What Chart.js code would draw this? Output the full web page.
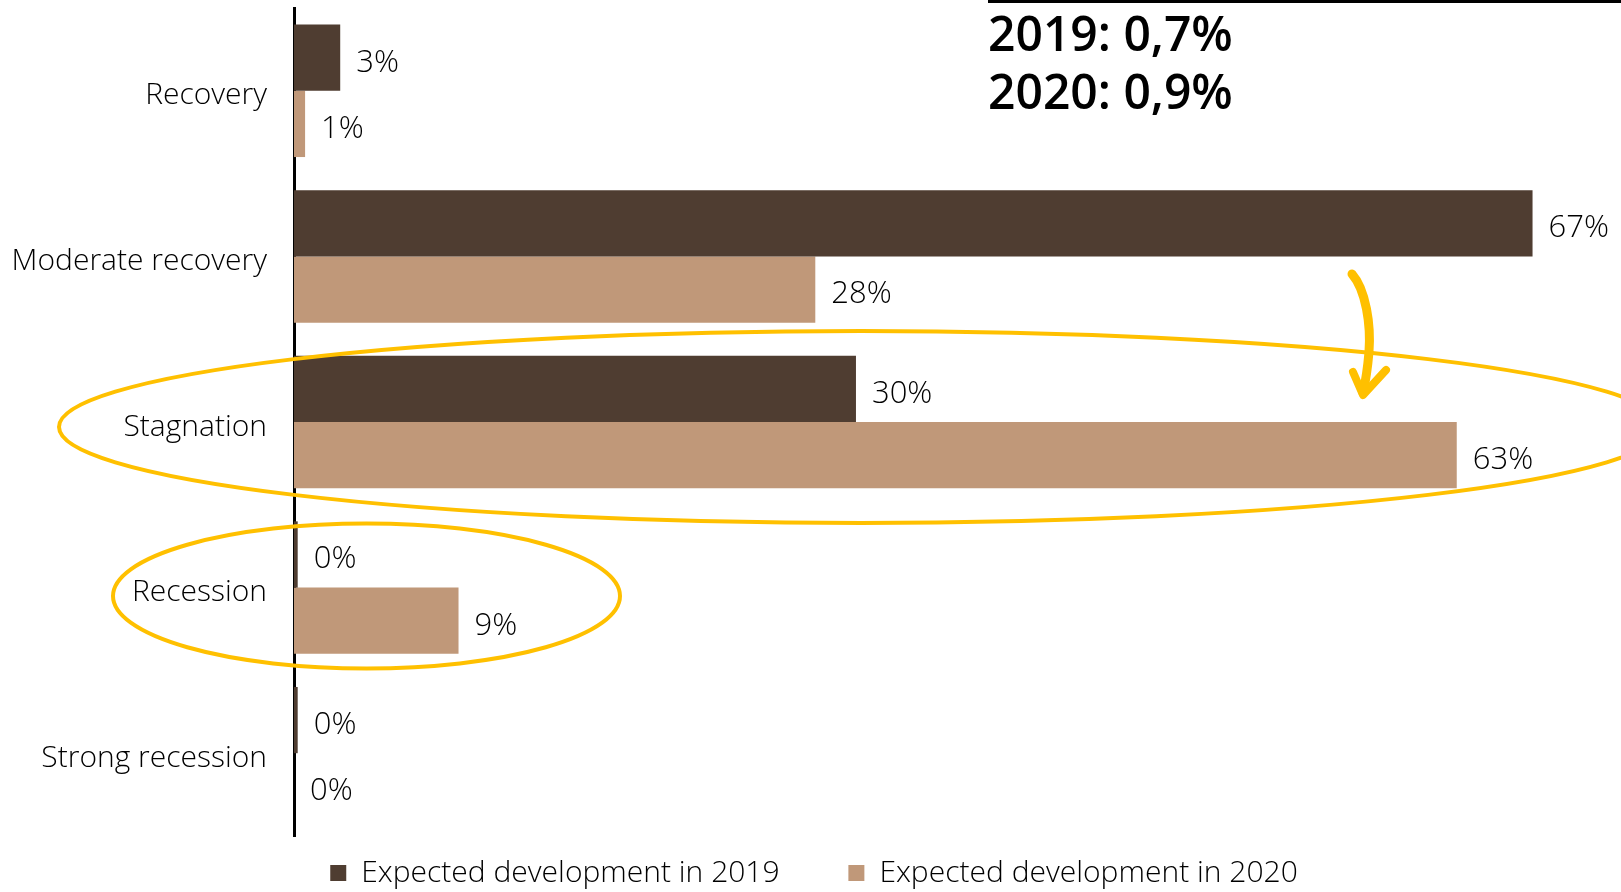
<!DOCTYPE html>
<html>
<head>
<meta charset="utf-8">
<script src="https://cdn.jsdelivr.net/npm/chart.js@4"></script>
<style>
  html, body { margin: 0; padding: 0; background: #fff; }
  #chart { display: block; }
</style>
</head>
<body>
<canvas id="chart" width="1621" height="892"></canvas>
<script>
// categories and values (% of respondents)
var categorias = ['Recovery', 'Moderate recovery', 'Stagnation', 'Recession', 'Strong recession'];
var valores_2019 = [2.5, 67, 30.4, 0.2, 0.2];
var valores_2020 = [0.6, 28.2, 62.9, 8.9, 0];
var nomes_series = ['Expected development in 2019', 'Expected development in 2020'];
var resumo = ['2019: 0,7%', '2020: 0,9%'];

var cor_escura = '#4F3D31';
var cor_clara = '#C09879';
var amarelo = '#FFC000';
var fonte = "'Open Sans', 'Noto Sans', sans-serif";

// value labels next to each bar
var rotulos = {
    id: 'rotulos',
    afterDatasetsDraw: function (chart) {
        var ctx = chart.ctx;
        ctx.save();
        ctx.font = '300 31px ' + fonte;
        ctx.fillStyle = '#000';
        ctx.textAlign = 'left';
        ctx.textBaseline = 'middle';
        chart.data.datasets.forEach(function (ds, i) {
            var meta = chart.getDatasetMeta(i);
            meta.data.forEach(function (barra, n) {
                ctx.fillText(Math.round(ds.data[n]) + '%', barra.x + 16, barra.y + 5);
            });
        });
        ctx.restore();
    }
};

// yellow highlights, arrow and the box text top right
var anotacoes = {
    id: 'anotacoes',
    afterInit: function (chart) {
        // keep legend box short so the plot ends where the axis ends
        var legenda = chart.legend;
        var fitOriginal = legenda.fit;
        legenda.fit = function () {
            fitOriginal.call(this);
            this.height = 56;
            if (this.lineWidths) this.lineWidths[0] -= 40;
        };
    },
    afterDraw: function (chart) {
        var ctx = chart.ctx;
        ctx.save();
        ctx.strokeStyle = amarelo;
        ctx.lineWidth = 4;
        ctx.beginPath();
        ctx.ellipse(861, 427, 802, 96, 0, 0, Math.PI * 2);
        ctx.stroke();
        ctx.beginPath();
        ctx.ellipse(366.5, 596, 253.5, 72.5, 0, 0, Math.PI * 2);
        ctx.stroke();

        // hand drawn arrow
        ctx.lineCap = 'round';
        ctx.lineJoin = 'round';
        ctx.lineWidth = 9;
        ctx.beginPath();
        ctx.moveTo(1352, 274);
        ctx.bezierCurveTo(1366, 290, 1371, 325, 1369, 352);
        ctx.quadraticCurveTo(1367, 375, 1363, 393);
        ctx.stroke();
        ctx.lineWidth = 8;
        ctx.beginPath();
        ctx.moveTo(1353, 372);
        ctx.lineTo(1363, 395);
        ctx.lineTo(1386, 370);
        ctx.stroke();

        // top right box
        ctx.strokeStyle = '#000';
        ctx.lineWidth = 3;
        ctx.lineCap = 'butt';
        ctx.beginPath();
        ctx.moveTo(988, 1.5);
        ctx.lineTo(1621, 1.5);
        ctx.stroke();
        ctx.fillStyle = '#000';
        ctx.font = '600 48px ' + fonte;
        ctx.textAlign = 'left';
        ctx.textBaseline = 'alphabetic';
        ctx.fillText(resumo[0], 988, 51);
        ctx.fillText(resumo[1], 988, 109);
        ctx.restore();
    }
};

var contexto = document.getElementById('chart').getContext('2d');
var grafico = new Chart(contexto, {
    type: 'bar',
    data: {
        labels: categorias,
        datasets: [{
            label: nomes_series[0],
            data: valores_2019,
            backgroundColor: cor_escura
        }, {
            label: nomes_series[1],
            data: valores_2020,
            backgroundColor: cor_clara
        }]
    },
    options: {
        indexAxis: 'y',
        responsive: false,
        devicePixelRatio: 1,
        animation: false,
        categoryPercentage: 0.8,
        barPercentage: 1.0,
        layout: {
            padding: { top: 8, right: 33, bottom: 0, left: 0 }
        },
        scales: {
            x: {
                display: false,
                min: 0,
                max: 70
            },
            y: {
                grid: { display: false, drawTicks: false },
                border: { display: true, color: '#000', width: 3 },
                ticks: {
                    padding: 27,
                    labelOffset: 5,
                    color: '#000',
                    font: { size: 30, weight: 300, family: fonte }
                },
                afterFit: function (escala) {
                    escala.width = 294;
                    escala.paddingTop = 0;
                    escala.paddingBottom = 0;
                }
            }
        },
        plugins: {
            tooltip: { enabled: false },
            legend: {
                position: 'bottom',
                labels: {
                    boxWidth: 16,
                    boxHeight: 16,
                    padding: 22,
                    color: '#000',
                    font: { size: 30, weight: 300, family: fonte },
                    generateLabels: function (chart) {
                        var itens = Chart.defaults.plugins.legend.labels.generateLabels(chart);
                        itens[0].text = itens[0].text + '      ';
                        return itens;
                    }
                }
            }
        }
    },
    plugins: [rotulos, anotacoes]
});
</script>
</body>
</html>
